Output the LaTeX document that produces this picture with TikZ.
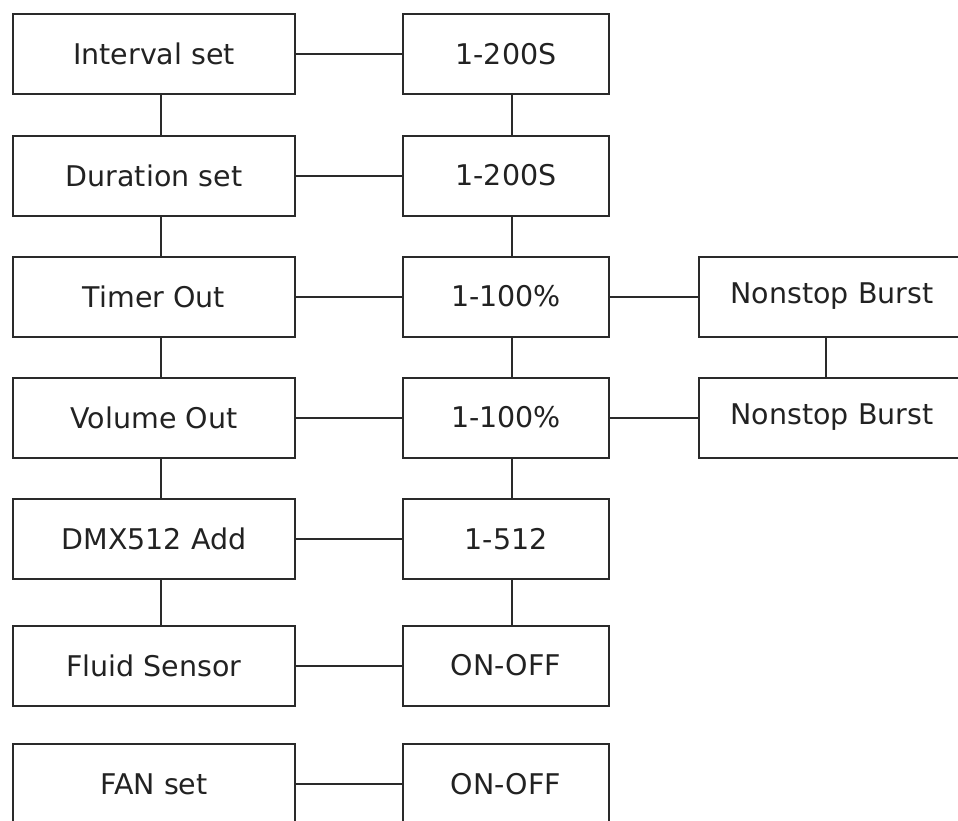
\documentclass[tikz,border=0pt]{standalone}
\usepackage{fontspec}
\setmainfont{DejaVu Sans}
\usetikzlibrary{positioning}
\definecolor{boxline}{HTML}{2A2A2A}
\definecolor{boxtext}{HTML}{222222}
\tikzset{
  menu/.style={draw=boxline, line width=2pt, minimum width=282pt, minimum height=80pt,
               inner sep=0pt, font=\fontsize{28.5}{34}\selectfont, text=boxtext},
  val/.style={menu, minimum width=206pt},
  opt/.style={menu, minimum width=266pt},
  link/.style={draw=boxline, line width=2pt}
}

\begin{document}
\begin{tikzpicture}[x=1pt, y=-1pt]
\useasboundingbox (0,0) rectangle (958,820);
% setting names
\node[menu] (intv)  at (154,54)    {Interval set};
\node[menu] (dur)   at (154,175.5) {Duration set};
\node[menu] (timer) at (154,296.5) {Timer Out};
\node[menu] (vol)   at (154,417.5) {Volume Out};
\node[menu] (dmx)   at (154,539)   {DMX512 Add};
\node[menu] (fluid) at (154,665.5) {Fluid Sensor};
\node[menu] (fan)   at (154,784)   {FAN set};
% value ranges
\node[val] (intvv)  at (506,54)    {1-200S};
\node[val] (durv)   at (506,175.5) {1-200S};
\node[val] (timerv) at (506,296.5) {1-100\%};
\node[val] (volv)   at (506,417.5) {1-100\%};
\node[val] (dmxv)   at (506,539)   {1-512};
\node[val] (fluidv) at (506,665.5) {ON-OFF};
\node[val] (fanv)   at (506,784)   {ON-OFF};
% extra options
\node[opt] (timerb) at (832,296.5) {Nonstop Burst};
\node[opt] (volb)   at (832,417.5) {Nonstop Burst};
% links
\foreach \a/\b in {intv/intvv, dur/durv, timer/timerv, vol/volv, dmx/dmxv, fluid/fluidv, fan/fanv,
                   timerv/timerb, volv/volb}
  \draw[link] (\a) -- (\b);
\foreach \a/\b in {intv/dur, dur/timer, timer/vol, vol/dmx, dmx/fluid}
  \draw[link] ([xshift=7pt]\a.south) -- ([xshift=7pt]\b.north);
\foreach \a/\b in {intvv/durv, durv/timerv, timerv/volv, volv/dmxv, dmxv/fluidv}
  \draw[link] ([xshift=6pt]\a.south) -- ([xshift=6pt]\b.north);
\draw[link] ([xshift=-6pt]timerb.south) -- ([xshift=-6pt]volb.north);
\end{tikzpicture}
\end{document}
